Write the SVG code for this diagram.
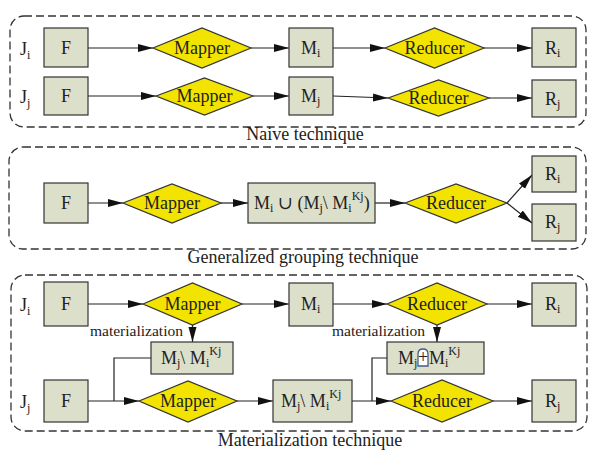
<svg xmlns="http://www.w3.org/2000/svg" width="613" height="460" viewBox="0 0 613 460">
<style>
.frame{fill:none;stroke:#333;stroke-width:1.3;stroke-dasharray:8 4}
.box{fill:#dcdfca;stroke:#333;stroke-width:1.2}
.dia{fill:#f2e400;stroke:#333;stroke-width:1.2}
.t{font-family:"Liberation Serif","DejaVu Serif","Times New Roman",Times,serif;font-size:18px;fill:#222}
.c{text-anchor:middle}
.s{font-size:12px}
.lab{font-family:"Liberation Serif","DejaVu Serif","Times New Roman",Times,serif;font-size:18px;fill:#222;text-anchor:middle}
.mat{font-family:"Liberation Serif","DejaVu Serif","Times New Roman",Times,serif;font-size:15.5px;fill:#222}
.ln{fill:none;stroke:#222;stroke-width:1.2}
</style>
<defs>
<marker id="ah" markerUnits="userSpaceOnUse" markerWidth="16" markerHeight="9" refX="15" refY="4" orient="auto">
<path d="M0,0 L15,4 L0,8 z" fill="#111"/>
</marker>
</defs>
<rect width="613" height="460" fill="#fff"/>

<g id="frames">
<rect class="frame" x="10" y="16" width="576" height="111" rx="14"/>
<rect class="frame" x="9" y="147" width="577" height="102" rx="14"/>
<rect class="frame" x="11" y="275" width="576" height="156" rx="14"/>
<text class="lab" x="305" y="140">Naive technique</text>
<text class="lab" x="303" y="263">Generalized grouping technique</text>
<text class="lab" x="310" y="446">Materialization technique</text>
</g>

<g id="connectors">
<line class="ln" x1="88" y1="48" x2="153" y2="48" marker-end="url(#ah)"/>
<line class="ln" x1="251" y1="48" x2="289" y2="48" marker-end="url(#ah)"/>
<line class="ln" x1="333" y1="48" x2="385" y2="48" marker-end="url(#ah)"/>
<line class="ln" x1="484" y1="48" x2="532" y2="48" marker-end="url(#ah)"/>
<line class="ln" x1="88" y1="96" x2="156" y2="96" marker-end="url(#ah)"/>
<line class="ln" x1="253" y1="96" x2="289" y2="96" marker-end="url(#ah)"/>
<line class="ln" x1="333" y1="96" x2="388" y2="98" marker-end="url(#ah)"/>
<line class="ln" x1="489" y1="98" x2="532" y2="98" marker-end="url(#ah)"/>

<line class="ln" x1="88" y1="203" x2="123" y2="203" marker-end="url(#ah)"/>
<line class="ln" x1="221" y1="203" x2="248" y2="203" marker-end="url(#ah)"/>
<line class="ln" x1="375" y1="203" x2="405" y2="203" marker-end="url(#ah)"/>
<line class="ln" x1="507" y1="203" x2="532" y2="175" marker-end="url(#ah)"/>
<line class="ln" x1="507" y1="203" x2="532" y2="223" marker-end="url(#ah)"/>

<line class="ln" x1="88" y1="304" x2="143" y2="304" marker-end="url(#ah)"/>
<line class="ln" x1="242" y1="304" x2="289" y2="304" marker-end="url(#ah)"/>
<line class="ln" x1="333" y1="304" x2="387" y2="304" marker-end="url(#ah)"/>
<line class="ln" x1="487" y1="304" x2="532" y2="304" marker-end="url(#ah)"/>
<line class="ln" x1="192.5" y1="325" x2="192.5" y2="342" marker-end="url(#ah)"/>
<line class="ln" x1="437" y1="325" x2="437" y2="342" marker-end="url(#ah)"/>
<line class="ln" x1="88" y1="401" x2="139" y2="401" marker-end="url(#ah)"/>
<polyline class="ln" points="151,358 114,358 114,401"/>
<line class="ln" x1="237" y1="401" x2="273" y2="401" marker-end="url(#ah)"/>
<line class="ln" x1="352" y1="401" x2="391" y2="401" marker-end="url(#ah)"/>
<polyline class="ln" points="387,358 372,358 372,401"/>
<line class="ln" x1="493" y1="401" x2="532" y2="401" marker-end="url(#ah)"/>
<text class="mat" x="90" y="336">materialization</text>
<text class="mat" x="332" y="336">materialization</text>
</g>

<g id="naive-labels">
<text class="t" x="20" y="55" font-size="19">J<tspan class="s" dy="4">i</tspan></text>
<text class="t" x="20" y="103" font-size="19">J<tspan class="s" dy="4">j</tspan></text>
</g>
<g id="n-F1"><rect class="box" x="44" y="28" width="44" height="39"/><text class="t c" x="66" y="54">F</text></g>
<g id="n-Map1"><polygon class="dia" points="153,48 202,28 251,48 202,68"/><text class="t c" x="202" y="54">Mapper</text></g>
<g id="n-Mi1"><rect class="box" x="289" y="28" width="44" height="39"/><text class="t" x="301" y="54">M<tspan class="s" dy="3">i</tspan></text></g>
<g id="n-Red1"><polygon class="dia" points="385,48 434.5,28 484,48 434.5,68"/><text class="t c" x="434.5" y="54">Reducer</text></g>
<g id="n-Ri1"><rect class="box" x="532" y="28" width="44" height="39"/><text class="t" x="545" y="54">R<tspan class="s" dy="3">i</tspan></text></g>
<g id="n-F2"><rect class="box" x="44" y="77" width="44" height="38"/><text class="t c" x="66" y="102">F</text></g>
<g id="n-Map2"><polygon class="dia" points="156,96 204.5,78 253,96 204.5,115"/><text class="t c" x="204.5" y="102">Mapper</text></g>
<g id="n-Mj2"><rect class="box" x="289" y="77" width="44" height="38"/><text class="t" x="301" y="102">M<tspan class="s" dy="3">j</tspan></text></g>
<g id="n-Red2"><polygon class="dia" points="388,98 438.5,80 489,98 438.5,116"/><text class="t c" x="438.5" y="104">Reducer</text></g>
<g id="n-Rj2"><rect class="box" x="532" y="80" width="44" height="37"/><text class="t" x="545" y="105">R<tspan class="s" dy="3">j</tspan></text></g>

<g id="g-F"><rect class="box" x="44" y="183" width="44" height="40"/><text class="t c" x="66" y="209">F</text></g>
<g id="g-Map"><polygon class="dia" points="123,203 172,184 221,203 172,223"/><text class="t c" x="172" y="209">Mapper</text></g>
<g id="g-M"><rect class="box" x="248" y="183" width="127" height="40"/><text class="t" x="254" y="209">M<tspan class="s" dy="3">i</tspan><tspan dy="-3"> ∪ (M</tspan><tspan class="s" dy="3">j</tspan><tspan dy="-3">\ M</tspan><tspan class="s" dy="3">i</tspan><tspan class="s" dy="-12">Kj</tspan><tspan dy="9">)</tspan></text></g>
<g id="g-Red"><polygon class="dia" points="405,203 456,184 507,203 456,223"/><text class="t c" x="456" y="209">Reducer</text></g>
<g id="g-Ri"><rect class="box" x="532" y="156" width="44" height="36"/><text class="t" x="545" y="180">R<tspan class="s" dy="3">i</tspan></text></g>
<g id="g-Rj"><rect class="box" x="532" y="204" width="44" height="37"/><text class="t" x="545" y="228">R<tspan class="s" dy="3">j</tspan></text></g>

<g id="m-labels">
<text class="t" x="20" y="311" font-size="19">J<tspan class="s" dy="4">i</tspan></text>
<text class="t" x="20" y="408" font-size="19">J<tspan class="s" dy="4">j</tspan></text>
</g>
<g id="m-F1"><rect class="box" x="44" y="282" width="44" height="44"/><text class="t c" x="66" y="310">F</text></g>
<g id="m-Map1"><polygon class="dia" points="143,304 192.5,283 242,304 192.5,325"/><text class="t c" x="192.5" y="310">Mapper</text></g>
<g id="m-Mi"><rect class="box" x="289" y="283" width="44" height="43"/><text class="t" x="301" y="310">M<tspan class="s" dy="3">i</tspan></text></g>
<g id="m-Red1"><polygon class="dia" points="387,304 437,283 487,304 437,325"/><text class="t c" x="437" y="310">Reducer</text></g>
<g id="m-Ri"><rect class="box" x="532" y="283" width="44" height="43"/><text class="t" x="545" y="310">R<tspan class="s" dy="3">i</tspan></text></g>
<g id="m-B1"><rect class="box" x="151" y="342" width="82" height="32"/><text class="t" x="161" y="364">M<tspan class="s" dy="3">j</tspan><tspan dy="-3">\ M</tspan><tspan class="s" dy="3">i</tspan><tspan class="s" dy="-12">Kj</tspan></text></g>
<g id="m-B3"><rect class="box" x="387" y="342" width="97" height="32"/>
<text class="t" x="398" y="364">M<tspan class="s" dy="3">j</tspan></text>
<path d="M418,366 L418,354 Q418,349 423,349 Q428,349 428,354 L428,366 Z" fill="#fff" stroke="#4a5a8a" stroke-width="1.3"/>
<text class="t c" x="423" y="363" font-size="14">+</text>
<text class="t" x="429" y="364">M<tspan class="s" dy="3">i</tspan><tspan class="s" dy="-12">Kj</tspan></text></g>
<g id="m-F2"><rect class="box" x="44" y="380" width="44" height="42"/><text class="t c" x="66" y="407">F</text></g>
<g id="m-Map2"><polygon class="dia" points="139,401 188,381 237,401 188,422"/><text class="t c" x="188" y="407">Mapper</text></g>
<g id="m-B2"><rect class="box" x="273" y="380" width="79" height="42"/><text class="t" x="281" y="407">M<tspan class="s" dy="3">j</tspan><tspan dy="-3">\ M</tspan><tspan class="s" dy="3">i</tspan><tspan class="s" dy="-12">Kj</tspan></text></g>
<g id="m-Red2"><polygon class="dia" points="391,401 442,380 493,401 442,422"/><text class="t c" x="442" y="407">Reducer</text></g>
<g id="m-Rj"><rect class="box" x="532" y="380" width="44" height="42"/><text class="t" x="545" y="407">R<tspan class="s" dy="3">j</tspan></text></g>
</svg>
